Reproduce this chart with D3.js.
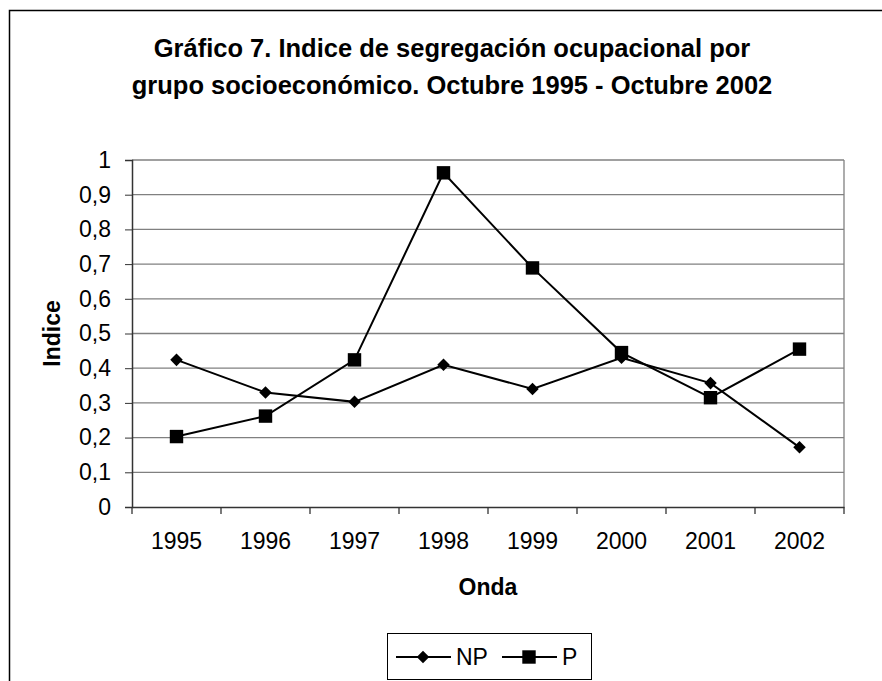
<!DOCTYPE html>
<html><head><meta charset="utf-8">
<script src="https://cdn.jsdelivr.net/npm/d3@7"></script>
<style>body{margin:0;background:#fff}svg{display:block}text{font-family:"Liberation Sans",Arial,sans-serif}</style>
</head><body>
<script>
const years = ["1995","1996","1997","1998","1999","2000","2001","2002"];
const npValues = [0.424,0.33,0.303,0.41,0.34,0.43,0.357,0.172];
const pValues = [0.203,0.262,0.424,0.963,0.689,0.445,0.315,0.455];
const yTicks = [0,0.1,0.2,0.3,0.4,0.5,0.6,0.7,0.8,0.9,1];
const titleLines = ["Gráfico 7. Indice de segregación ocupacional por","grupo socioeconómico. Octubre 1995 - Octubre 2002"];

const W=882,H=681;
const FONT="Liberation Sans, Arial, sans-serif";
const svg=d3.select("body").append("svg").attr("width",W).attr("height",H);
svg.append("rect").attr("x",9.5).attr("y",10.5).attr("width",W+10).attr("height",H+10)
  .attr("fill","#fff").attr("stroke","#000").attr("stroke-width",1.5);

const L=132,R=844,T=160,B=507;
const x=d3.scaleBand().domain(years).range([L,R]);
const y=d3.scaleLinear().domain([0,1]).range([B,T]);

// title
svg.append("g").selectAll("text").data(titleLines).join("text")
  .attr("x",452).attr("y",(d,i)=>57+i*37).attr("text-anchor","middle")
  .attr("font-size",25.5).attr("font-weight","bold").text(d=>d);

// gridlines
svg.append("g").selectAll("line").data(yTicks.filter(v=>v>0)).join("line")
  .attr("x1",L).attr("x2",R).attr("y1",d=>y(d)).attr("y2",d=>y(d))
  .attr("stroke","#808080").attr("stroke-width",1.3);
svg.append("line").attr("x1",R).attr("x2",R).attr("y1",T).attr("y2",B).attr("stroke","#808080").attr("stroke-width",1.3);

// y axis
const ya=svg.append("g").attr("transform",`translate(${L},0)`)
  .call(d3.axisLeft(y).tickValues(yTicks).tickSize(7).tickPadding(14)
  .tickFormat(d=>d3.format(".1~f")(d).replace(".",",")));
ya.select(".domain").attr("stroke","#333").attr("stroke-width",1.5);
ya.selectAll(".tick line").attr("stroke","#333");
ya.selectAll("text").attr("font-size",23).attr("fill","#000").attr("font-family",FONT);

// x axis
const xa=svg.append("g").attr("transform",`translate(0,${B})`)
  .call(d3.axisBottom(x).tickSize(0).tickPadding(26));
xa.select(".domain").attr("stroke","#333").attr("stroke-width",1.5);
xa.selectAll("text").attr("font-size",23).attr("fill","#000").attr("font-family",FONT);
svg.append("g").selectAll("line").data(years.map(d=>x(d)).concat([R])).join("line")
  .attr("x1",d=>d).attr("x2",d=>d).attr("y1",B).attr("y2",B+7).attr("stroke","#333").attr("stroke-width",1.3);

// axis titles
svg.append("text").attr("transform",`translate(60,${(T+B)/2}) rotate(-90)`).attr("text-anchor","middle")
  .attr("font-size",23).attr("font-weight","bold").text("Indice");
svg.append("text").attr("x",(L+R)/2).attr("y",595).attr("text-anchor","middle")
  .attr("font-size",23).attr("font-weight","bold").text("Onda");

const cx=d=>x(d)+x.bandwidth()/2;
const line=d3.line().x((d,i)=>cx(years[i])).y(d=>y(d));
svg.append("path").attr("d",line(npValues)).attr("fill","none").attr("stroke","#000").attr("stroke-width",2);
svg.append("path").attr("d",line(pValues)).attr("fill","none").attr("stroke","#000").attr("stroke-width",2);
const diamond=d3.symbol().type(d3.symbolDiamond2).size(100);
const square=d3.symbol().type(d3.symbolSquare).size(180);
svg.append("g").selectAll("path").data(npValues).join("path")
  .attr("d",diamond()).attr("transform",(d,i)=>`translate(${cx(years[i])},${y(d)})`).attr("fill","#000");
svg.append("g").selectAll("path").data(pValues).join("path")
  .attr("d",square()).attr("transform",(d,i)=>`translate(${cx(years[i])},${y(d)})`).attr("fill","#000");

// legend
const lg=svg.append("g");
lg.append("rect").attr("x",387.5).attr("y",633.5).attr("width",204).attr("height",46).attr("fill","#fff").attr("stroke","#000").attr("stroke-width",1);
const ly=657;
lg.append("line").attr("x1",396).attr("x2",451).attr("y1",ly).attr("y2",ly).attr("stroke","#000").attr("stroke-width",2);
lg.append("path").attr("d",diamond()).attr("transform",`translate(423,${ly})`);
lg.append("text").attr("x",456).attr("y",ly+8).attr("font-size",23).text("NP");
lg.append("line").attr("x1",502).attr("x2",557).attr("y1",ly).attr("y2",ly).attr("stroke","#000").attr("stroke-width",2);
lg.append("path").attr("d",square()).attr("transform",`translate(529,${ly})`);
lg.append("text").attr("x",562).attr("y",ly+8).attr("font-size",23).text("P");
</script>
</body></html>
